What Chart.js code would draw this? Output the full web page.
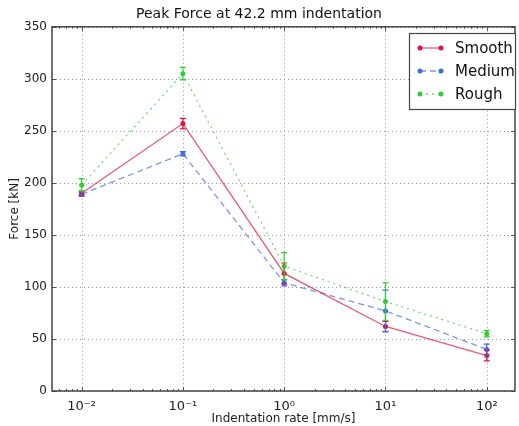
<!DOCTYPE html>
<html>
<head>
<meta charset="utf-8">
<script src="https://cdn.jsdelivr.net/npm/chart.js@4/dist/chart.umd.min.js"></script>
<style>
html,body{margin:0;padding:0;background:#fff;}
#wrap{width:519px;height:426px;}
</style>
</head>
<body>
<div id="wrap"><canvas id="c" width="519" height="426"></canvas></div>
<script>
const categories = [0.01, 0.1, 1, 10, 100];
const xTickLabels = ['10\u207B\u00B2', '10\u207B\u00B9', '10\u2070', '10\u00B9', '10\u00B2'];
const yTicks = [0, 50, 100, 150, 200, 250, 300, 350];
const seriesNames = ['Smooth', 'Medium', 'Rough'];
const smooth = [190, 257, 113, 62, 34];
const smoothErr = [2, 5, 10, 5, 5];
const medium = [189, 228, 104, 77, 40];
const mediumErr = [2, 2, 3, 20, 5];
const rough = [198, 305, 120, 86, 55];
const roughErr = [6, 6, 13, 18, 3];

const FONT = "'DejaVu Sans', sans-serif";
const colors = ['#DC143C', '#4169E1', '#32CD32'];
const lineColors = ['rgba(220,20,60,0.7)', 'rgba(65,105,225,0.7)', 'rgba(50,205,50,0.7)'];
const dashes = [[], [6, 4], [2, 4]];
const values = [smooth, medium, rough];
const errs = [smoothErr, mediumErr, roughErr];

const datasets = seriesNames.map((n, i) => ({
  label: n,
  data: categories.map((x, j) => ({x: x, y: values[i][j]})),
  err: errs[i],
  borderColor: lineColors[i],
  backgroundColor: colors[i],
  pointBackgroundColor: colors[i],
  pointBorderColor: colors[i],
  pointRadius: 2.5,
  pointBorderWidth: 0,
  borderWidth: 1.3,
  borderDash: dashes[i],
  tension: 0
}));

const majorX = categories.slice();
function allXTicks() {
  const t = [];
  for (let e = -3; e <= 2; e++) {
    for (let m = 1; m <= 9; m++) {
      const v = m * Math.pow(10, e);
      if (v >= 0.0051 && v <= 190) t.push({value: v, major: m === 1});
    }
  }
  return t;
}

const framePlugin = {
  id: 'frame',
  beforeDatasetsDraw(chart) {
    const ctx = chart.ctx;
    const a = chart.chartArea;
    const xs = chart.scales.x, ys = chart.scales.y;
    ctx.save();
    ctx.strokeStyle = '#999';
    ctx.lineWidth = 1;
    ctx.setLineDash([1, 3]);
    ctx.beginPath();
    majorX.forEach(v => {
      const px = Math.round(xs.getPixelForValue(v)) + 0.5;
      ctx.moveTo(px, a.top); ctx.lineTo(px, a.bottom);
    });
    yTicks.forEach(v => {
      const py = Math.round(ys.getPixelForValue(v)) + 0.5;
      ctx.moveTo(a.left, py); ctx.lineTo(a.right, py);
    });
    ctx.stroke();
    ctx.restore();
  },
  afterDatasetsDraw(chart) {
    const ctx = chart.ctx;
    const xs = chart.scales.x, ys = chart.scales.y;
    chart.data.datasets.forEach((ds, i) => {
      ctx.save();
      ctx.strokeStyle = colors[i];
      ctx.lineWidth = 1.2;
      ds.data.forEach((p, j) => {
        const px = xs.getPixelForValue(p.x);
        const top = ys.getPixelForValue(p.y + ds.err[j]);
        const bot = ys.getPixelForValue(p.y - ds.err[j]);
        ctx.beginPath();
        ctx.moveTo(px, top); ctx.lineTo(px, bot);
        ctx.moveTo(px - 3, top); ctx.lineTo(px + 3, top);
        ctx.moveTo(px - 3, bot); ctx.lineTo(px + 3, bot);
        ctx.stroke();
      });
      ctx.restore();
    });
  },
  afterDraw(chart) {
    const ctx = chart.ctx;
    const a = chart.chartArea;
    const xs = chart.scales.x, ys = chart.scales.y;
    ctx.save();
    ctx.strokeStyle = '#555';
    ctx.lineWidth = 1;
    ctx.beginPath();
    allXTicks().forEach(t => {
      const px = Math.round(xs.getPixelForValue(t.value)) + 0.5;
      const len = t.major ? 4 : 2;
      ctx.moveTo(px, a.bottom); ctx.lineTo(px, a.bottom - len);
      ctx.moveTo(px, a.top); ctx.lineTo(px, a.top + len);
    });
    yTicks.forEach(v => {
      const py = Math.round(ys.getPixelForValue(v)) + 0.5;
      ctx.moveTo(a.left, py); ctx.lineTo(a.left + 4, py);
      ctx.moveTo(a.right, py); ctx.lineTo(a.right - 4, py);
    });
    ctx.stroke();
    ctx.lineWidth = 1.5;
    ctx.strokeStyle = '#444';
    ctx.strokeRect(a.left, a.top, a.right - a.left, a.bottom - a.top);

    const lx = 409, ly = 33, lw = 106, lh = 76;
    ctx.fillStyle = '#fff';
    ctx.fillRect(lx, ly, lw, lh);
    ctx.lineWidth = 1.2;
    ctx.strokeStyle = '#444';
    ctx.strokeRect(lx + 0.5, ly + 0.5, lw, lh);
    ctx.font = '15px ' + FONT;
    ctx.textBaseline = 'middle';
    chart.data.datasets.forEach((ds, i) => {
      const y = ly + 15 + i * 23;
      ctx.strokeStyle = lineColors[i];
      ctx.lineWidth = 1.3;
      ctx.setLineDash(dashes[i]);
      ctx.beginPath();
      ctx.moveTo(420, y); ctx.lineTo(441, y);
      ctx.stroke();
      ctx.setLineDash([]);
      ctx.fillStyle = colors[i];
      [420, 441].forEach(px => { ctx.beginPath(); ctx.arc(px, y, 2.5, 0, Math.PI * 2); ctx.fill(); });
      ctx.fillStyle = '#111';
      ctx.textAlign = 'left';
      ctx.fillText(ds.label, 455, y + 1);
    });
    ctx.restore();
  }
};

new Chart(document.getElementById('c'), {
  type: 'line',
  data: {datasets: datasets},
  options: {
    responsive: false,
    animation: false,
    devicePixelRatio: 1,
    layout: {padding: {left: 0, right: 1, top: 0, bottom: 0}},
    plugins: {
      legend: {display: false},
      tooltip: {enabled: false},
      title: {
        display: true,
        text: 'Peak Force at 42.2 mm indentation',
        color: '#111',
        font: {family: FONT, size: 14, weight: 'normal'},
        padding: {top: 6, bottom: 4}
      }
    },
    scales: {
      x: {
        type: 'logarithmic',
        min: 0.0051,
        max: 190,
        afterBuildTicks: s => { s.ticks = majorX.map(v => ({value: v})); },
        afterFit: s => { s.height = 35; },
        ticks: {
          autoSkip: false,
          maxRotation: 0,
          color: '#222',
          padding: 8,
          font: {family: FONT, size: 13},
          callback: (v, i) => xTickLabels[i]
        },
        grid: {display: false, drawTicks: false},
        border: {display: false},
        title: {
          display: true,
          text: 'Indentation rate [mm/s]',
          color: '#222',
          font: {family: FONT, size: 12},
          padding: {top: 0, bottom: 0}
        }
      },
      y: {
        min: 0,
        max: 350,
        afterBuildTicks: s => { s.ticks = yTicks.map(v => ({value: v})); },
        afterFit: s => { s.width = 52; },
        ticks: {
          color: '#222',
          padding: 5,
          font: {family: FONT, size: 12}
        },
        grid: {display: false, drawTicks: false},
        border: {display: false},
        title: {
          display: true,
          text: 'Force [kN]',
          color: '#222',
          font: {family: FONT, size: 12},
          padding: {top: 8, bottom: 0}
        }
      }
    }
  },
  plugins: [framePlugin]
});
</script>
</body>
</html>
